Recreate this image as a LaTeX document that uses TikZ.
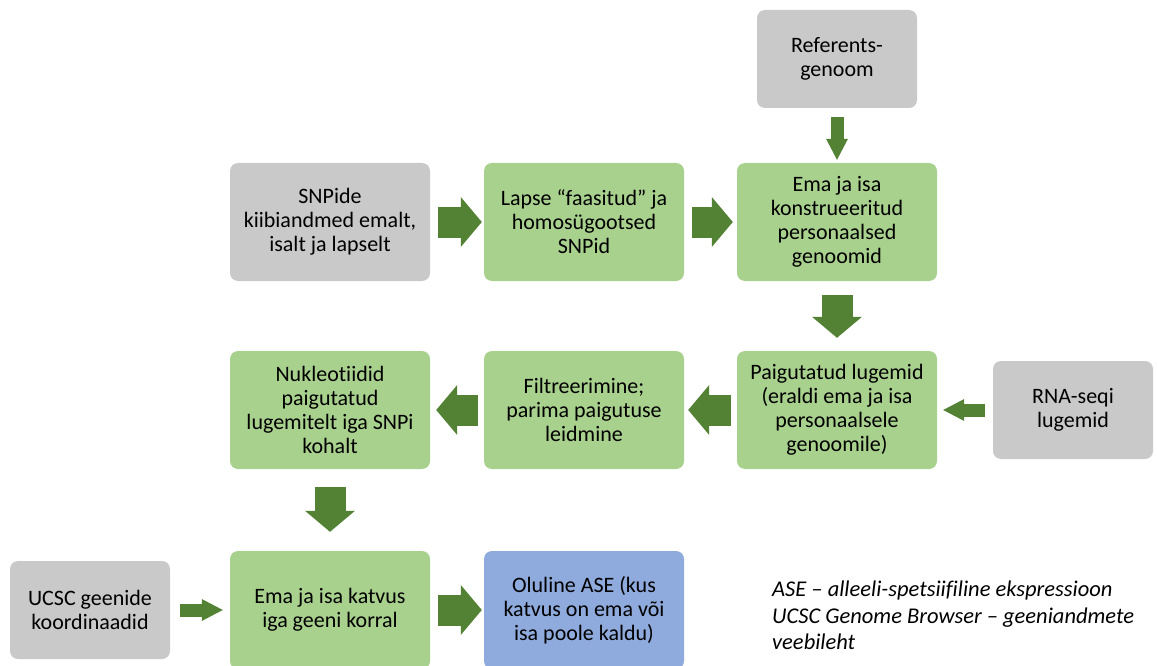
\documentclass[tikz,border=0pt]{standalone}
\usepackage{fontspec}
\setmainfont{Carlito}[Ligatures=NoCommon]
\usetikzlibrary{arrows.meta}
\definecolor{boxgray}{HTML}{C9C9C9}
\definecolor{boxgreen}{HTML}{A9D18E}
\definecolor{boxblue}{HTML}{8FAADC}
\definecolor{arrgreen}{HTML}{548235}
\begin{document}
\begin{tikzpicture}[x=1pt,y=-1pt,
        box/.style={rounded corners=8pt,minimum width=200pt,minimum height=118pt,
            align=center,inner sep=2pt,font=\fontsize{22}{24}\selectfont},
        graybox/.style={box,fill=boxgray},
        smallgray/.style={graybox,minimum width=160pt,minimum height=98pt},
        greenbox/.style={box,fill=boxgreen},
        bluebox/.style={box,fill=boxblue},
        bigarr/.style={draw=arrgreen,line width=31pt,
            -{Triangle[length=21pt,width=50pt,line width=0pt]}},
        smallarr/.style={draw=arrgreen,line width=13pt,
            -{Triangle[length=21pt,width=22pt,line width=0pt]}}]
                \useasboundingbox (0, 0) rectangle (1157, 666);
                \node[smallgray] (ref) at (837, 59) {Referents-\\genoom};
                \node[graybox] (snp) at (330, 222) {SNPide\\kiibiandmed emalt,\\isalt ja lapselt};
                \node[greenbox] (lapse) at (584, 222) {Lapse “faasitud” ja\\homosügootsed\\SNPid};
                \node[greenbox] (emaisa) at (837, 222) {Ema ja isa\\konstrueeritud\\personaalsed\\genoomid};
                \node[greenbox] (paig) at (837, 410) {Paigutatud lugemid\\(eraldi ema ja isa\\personaalsele\\genoomile)};
                \node[smallgray] (rna) at (1073, 410) {RNA-seqi\\lugemid};
                \node[greenbox] (filt) at (584, 410) {Filtreerimine;\\parima paigutuse\\leidmine};
                \node[greenbox] (nukl) at (330, 410) {Nukleotiidid\\paigutatud\\lugemitelt iga SNPi\\kohalt};
                \node[smallgray] (ucsc) at (90, 610) {UCSC geenide\\koordinaadid};
                \node[greenbox] (katv) at (330, 610) {Ema ja isa katvus\\iga geeni korral};
                \node[bluebox] (ase) at (584, 610) {Oluline ASE (kus\\katvus on ema või\\isa poole kaldu)};
                \node[anchor=north west,align=left,inner sep=0pt,
                    font=\fontsize{22.5}{26.5}\selectfont\itshape] (legend) at (772, 581)
                    {ASE – alleeli-spetsiifiline ekspressioon\\UCSC Genome Browser – geeniandmete\\veebileht};

                \draw[smallarr,shorten <=9pt,shorten >=3pt] (ref) -- (emaisa);
                \draw[bigarr,shorten <=8pt,shorten >=2pt] (snp) -- (lapse);
                \draw[bigarr,shorten <=8pt,shorten >=4pt] (lapse) -- (emaisa);
                \draw[bigarr,shorten <=14pt,shorten >=13pt] (emaisa) -- (paig);
                \draw[smallarr,shorten <=8pt,shorten >=6pt] (rna) -- (paig);
                \draw[bigarr,shorten <=6pt,shorten >=4pt] (paig) -- (filt);
                \draw[bigarr,shorten <=6pt,shorten >=6pt] (filt) -- (nukl);
                \draw[bigarr,shorten <=18pt,shorten >=19pt] (nukl) -- (katv);
                \draw[smallarr,shorten <=10pt,shorten >=7pt] (ucsc) -- (katv);
                \draw[bigarr,shorten <=8pt,shorten >=2pt] (katv) -- (ase);
            \end{tikzpicture}
\end{document}
